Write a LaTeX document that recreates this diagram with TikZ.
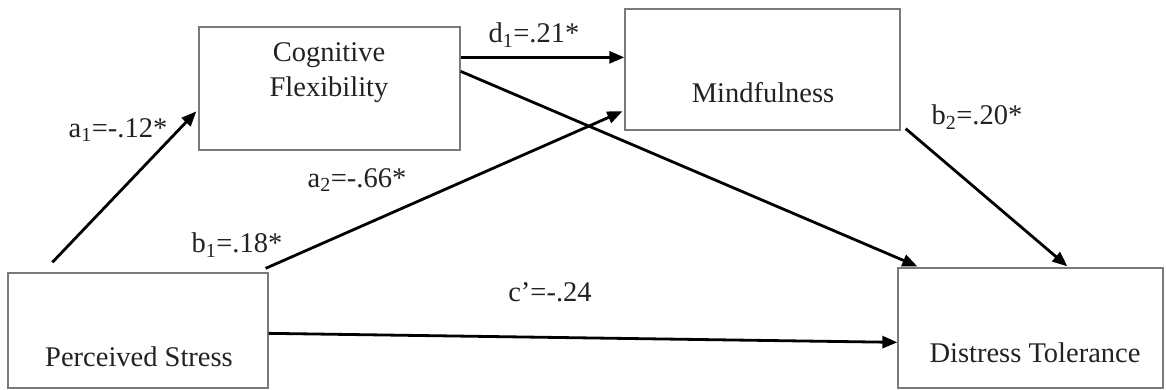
\documentclass[tikz,border=0pt]{standalone}
\usepackage{fontspec}
\setmainfont{Liberation Serif}
\usetikzlibrary{calc,arrows.meta}
\definecolor{boxgray}{HTML}{7A7A7A}
\definecolor{txt}{HTML}{222222}
\begin{document}
\begin{tikzpicture}[x=1pt,y=-1pt,
  box/.style={draw=boxgray,line width=1.3pt,fill=white,inner sep=0pt},
  lbl/.style={font=\fontsize{28.5}{35}\selectfont,text=txt,inner sep=0pt,align=center},
  path/.style={draw=black,line width=2.8pt,-{Triangle[length=15pt,width=12pt]}}]
\useasboundingbox (0,0) rectangle (1166,390);
\fill[white] (0,0) rectangle (1166,390);
% boxes
\node[box,minimum width=261pt,minimum height=123pt] (cf) at (329.5,88.5) {};
\node[box,minimum width=275pt,minimum height=121pt] (mf) at (762.5,69.5) {};
\node[box,minimum width=260pt,minimum height=115pt] (ps) at (138,330.5) {};
\node[box,minimum width=265pt,minimum height=120pt] (dt) at (1030.5,328) {};
% box texts
\node[lbl] (cft) at (329,73) {Cognitive\\Flexibility};
\node[lbl] (mft) at (763,93) {Mindfulness};
\node[lbl] (pst) at (139,357) {Perceived Stress};
\node[lbl] (dtt) at (1035,353) {Distress Tolerance};
% connectors
\draw[path] ($(ps.north west)+(45,-10)$) -- ($(cf.north west)+(-2,85)$);
\draw[path] ($(ps.north east)+(-3,-4)$) -- ($(mf.north west)+(-2,103)$);
\draw[path] ($(cf.north east)+(0,31)$) -- ($(mf.north west)+(0,49)$);
\draw[path] ($(cf.north east)+(0,45)$) -- ($(dt.north west)+(20,-1)$);
\draw[path] ($(mf.south east)+(5,-2)$) -- ($(dt.north west)+(170,-1)$);
\draw[path] ($(ps.north east)+(0,61)$) -- ($(dt.north west)+(0,75)$);
% labels
\node[lbl] (la1) at (118,130) {a\textsubscript{1}=-.12*};
\node[lbl] (la2) at (357,180) {a\textsubscript{2}=-.66*};
\node[lbl] (ld1) at (534,35) {d\textsubscript{1}=.21*};
\node[lbl] (lb2) at (977,117) {b\textsubscript{2}=.20*};
\node[lbl] (lb1) at (237,245) {b\textsubscript{1}=.18*};
\node[lbl] (lc) at (550,292) {c’=-.24};
\end{tikzpicture}
\end{document}
